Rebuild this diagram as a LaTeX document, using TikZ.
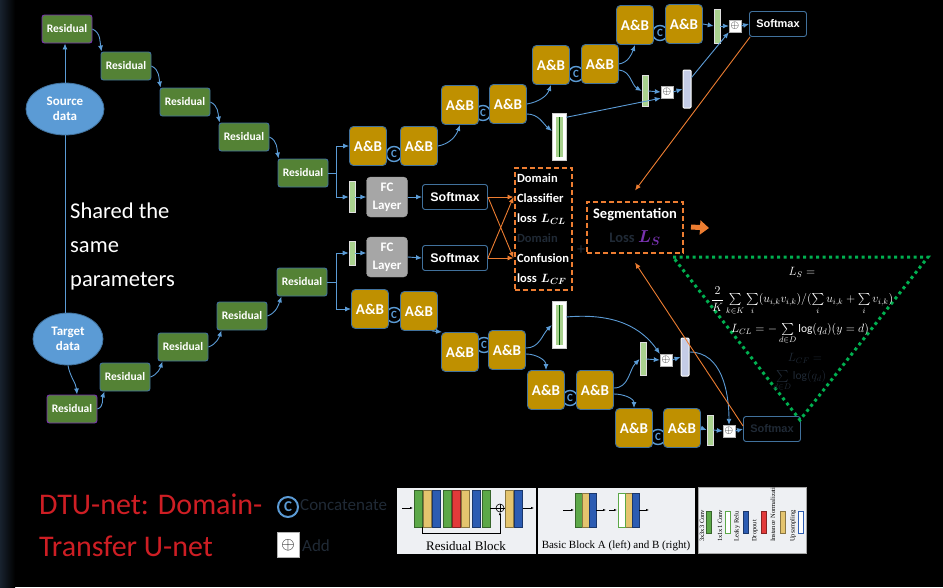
\documentclass[tikz,border=0pt]{standalone}
\usepackage{amsmath}
\usepackage{fontspec}
\setmainfont{Carlito}
\newfontfamily\arialfont{Liberation Sans}
\newfontfamily\timesfont{Liberation Serif}
\usepackage{xcolor}
\usetikzlibrary{positioning,arrows.meta,shapes.geometric}

\definecolor{resgreen}{RGB}{84,130,53}
\definecolor{abgold}{RGB}{191,144,0}
\definecolor{edgeblue}{RGB}{65,113,156}
\definecolor{flowblue}{RGB}{91,155,213}
\definecolor{lossorange}{RGB}{237,125,49}
\definecolor{dotgreen}{RGB}{0,176,80}
\definecolor{fcgray}{RGB}{166,166,166}
\definecolor{dimtext}{RGB}{32,42,54}
\definecolor{titlered}{RGB}{206,30,36}
\definecolor{lspurple}{RGB}{120,50,175}
\definecolor{barfill}{RGB}{169,209,142}
\definecolor{upfill}{RGB}{196,204,230}
\definecolor{panelfill}{RGB}{238,240,243}
\definecolor{lgreen}{RGB}{92,168,72}
\definecolor{lyellow}{RGB}{228,196,110}
\definecolor{lblue}{RGB}{44,92,178}
\definecolor{lred}{RGB}{226,58,58}

\begin{document}
\begin{tikzpicture}[
  x=1pt,
  y=1pt,
  resblock/.style={draw=edgeblue, fill=resgreen, rounded corners=2.5pt, line width=0.9pt,
    minimum width=50pt, minimum height=28pt, inner sep=0pt, text=white,
    font=\bfseries\fontsize{11.5}{12}\selectfont},
  datablob/.style={ellipse, draw=edgeblue, fill=flowblue, line width=0.8pt, inner sep=0pt,
    text=white, align=center, font=\bfseries\fontsize{13}{15}\selectfont},
  abblock/.style={draw=edgeblue, fill=abgold, rounded corners=4pt, line width=0.9pt,
    minimum width=37pt, minimum height=39pt, inner sep=0pt, text=white,
    font=\bfseries\fontsize{15}{16}\selectfont},
  fcblock/.style={draw=gray!80, fill=fcgray, rounded corners=4pt, minimum width=41pt,
    minimum height=40pt, inner sep=0pt, text=white, align=center,
    font=\bfseries\fontsize{13}{18}\selectfont},
  softbox/.style={draw=edgeblue, fill=black, rounded corners=2.5pt, line width=0.9pt,
    minimum width=65pt, minimum height=25pt, inner sep=0pt, text=white,
    font=\arialfont\bfseries\fontsize{12.5}{13}\selectfont},
  gbar/.style={fill=barfill, draw=white!75!gray, line width=0.6pt, minimum width=6pt,
    minimum height=31pt, inner sep=0pt},
  skipbar/.style={fill=white, draw=gray!40, minimum width=14pt, minimum height=47pt, inner sep=0pt,
    path picture={
      \fill[barfill] ([xshift=-3.5pt,yshift=-20pt]path picture bounding box.center)
        rectangle ([xshift=3.5pt,yshift=20pt]path picture bounding box.center);
      \draw[green!35!black, line width=0.5pt] ([yshift=-20pt]path picture bounding box.center)
        -- ([yshift=20pt]path picture bounding box.center);}},
  upbar/.style={fill=upfill, draw=white, line width=1pt, rounded corners=1pt,
    minimum width=8pt, minimum height=38pt, inner sep=0pt},
  addbox/.style={fill=white, draw=gray!60, minimum size=12pt, inner sep=0pt,
    font=\fontsize{11}{11}\selectfont},
  catmark/.style={circle, draw=flowblue, line width=1.4pt, text=flowblue, minimum size=15pt,
    inner sep=0pt, font=\bfseries\fontsize{11}{11}\selectfont},
  lossbox/.style={draw=lossorange, line width=2pt, dash pattern=on 5pt off 3pt},
  eqtext/.style={text=white, inner sep=0pt, font=\fontsize{11.5}{13}\selectfont},
  flow/.style={flowblue, line width=0.9pt, -{Latex[length=6pt,width=5pt]}},
  lossflow/.style={lossorange, line width=0.9pt, -{Latex[length=6pt,width=5pt]}},
]
\path[use as bounding box] (0,0) rectangle (943,-587);
\fill[black] (0,0) rectangle (943,-587);
\shade[left color={rgb,255:red,24;green,34;blue,46}, right color=black] (0,0) rectangle (15,-587);

% Encoders.
\node[datablob, minimum width=78pt, minimum height=52pt] (src) at (65,-109) {Source\\data};
\node[datablob, minimum width=70pt, minimum height=52pt] (tgt) at (68,-339) {Target\\data};

\node[resblock, draw=lspurple] (s1) at (67,-29) {Residual};
\node[resblock] (s2) at (126,-66) {Residual};
\node[resblock] (s3) at (185,-102) {Residual};
\node[resblock] (s4) at (244,-137) {Residual};
\node[resblock] (s5) at (303,-173) {Residual};

\node[resblock, draw=lspurple] (t1) at (72,-409) {Residual};
\node[resblock] (t2) at (125,-377) {Residual};
\node[resblock] (t3) at (183,-347) {Residual};
\node[resblock] (t4) at (242,-316) {Residual};
\node[resblock] (t5) at (302,-282) {Residual};

\draw[flow] (src.north) -- (src.north |- s1.south);
\draw[flowblue, line width=0.8pt] (src.south) -- (src.south |- tgt.north);
\draw[flow] (tgt.south) to[out=-80,in=95] ([xshift=5pt]t1.north);
\foreach \a/\b in {s1/s2,s2/s3,s3/s4,s4/s5} {
  \draw[flow] (\a.east) to[out=-25,in=100] ([xshift=1pt]\b.north west);
}
\foreach \a/\b in {t1/t2,t2/t3,t3/t4,t4/t5} {
  \draw[flow] (\a.east) to[out=20,in=-110] ([xshift=5pt]\b.south west);
}

\node[anchor=north west, align=left, text=white, inner sep=0pt,
  font=\fontsize{22.5}{34}\selectfont] (shared) at (70,-203) {Shared the\\same\\parameters};

% Concatenation marks (behind the blocks).
\foreach \nm/\xx/\yy in {c1/394/-154, c2/483/-113, c3/576/-74, c4/660/-33,
                         d1/394/-315, d2/484/-345, d3/570/-398, d4/658/-437} {
  \node[catmark] (\nm) at (\xx,\yy) {C};
}

% Source decoder.
\node[abblock] (ab1) at (368,-146) {A\&B};
\node[abblock] (ab2) at (419,-146) {A\&B};
\node[abblock] (ab3) at (460,-105) {A\&B};
\node[abblock] (ab4) at (508,-104) {A\&B};
\node[abblock] (ab5) at (551,-65) {A\&B};
\node[abblock] (ab6) at (600,-64) {A\&B};
\node[abblock] (ab7) at (635,-25) {A\&B};
\node[abblock] (ab8) at (684,-24) {A\&B};

\node[skipbar] (sk1) at (559,-137) {};
\node[gbar] (gb3) at (645,-91) {};
\node[addbox] (ad1) at (667,-92) {$\oplus$};
\node[upbar] (ub1) at (687,-89) {};
\node[gbar, minimum height=34pt] (gb4) at (717,-26) {};
\node[addbox] (ad2) at (735,-26) {$\oplus$};
\node[softbox, minimum width=57pt, font=\arialfont\bfseries\fontsize{11}{12}\selectfont] (smt) at (778,-24) {Softmax};

\coordinate (sfork) at (336,-173);
\draw[flowblue, line width=0.9pt] (s5.east) -- (sfork);
\draw[flow] (sfork) |- (ab1.west);
\draw[flow] (ab2.east) to[out=10,in=-110] (ab3.south);
\draw[flow] (ab4.east) to[out=10,in=-110] (ab5.south);
\draw[flow] (ab6.east) to[out=10,in=-110] (ab7.south);
\draw[flow] ([yshift=-10pt]ab4.east) to[out=0,in=140] ([yshift=6pt]sk1.west);
\draw[flow] ([yshift=-6pt]ab6.east) to[out=-5,in=150] (gb3.west);
\draw[flow] ([yshift=-4pt]sk1.north east) -- (ad1.south west);
\draw[flow] (gb3.east) -- (ad1.west);
\draw[flow] (ad1.east) -- (ub1.west);
\draw[flow] ([yshift=-8pt]ub1.north east) -- (ad2.south west);
\draw[flow] (ab8.east) -- (gb4.west);
\draw[flow] (gb4.east) -- (ad2.west);
\draw[flow] (ad2.east) -- (smt.west);

% Target decoder.
\node[abblock] (bb1) at (370,-309) {A\&B};
\node[abblock] (bb2) at (419,-311) {A\&B};
\node[abblock] (bb3) at (460,-352) {A\&B};
\node[abblock] (bb4) at (507,-350) {A\&B};
\node[abblock] (bb5) at (546,-390) {A\&B};
\node[abblock] (bb6) at (595,-390) {A\&B};
\node[abblock] (bb7) at (634,-428) {A\&B};
\node[abblock] (bb8) at (682,-428) {A\&B};

\node[skipbar] (sk2) at (559,-325) {};
\node[gbar, minimum height=33pt] (gb5) at (643,-359) {};
\node[addbox] (ad3) at (666,-360) {$\oplus$};
\node[upbar] (ub2) at (685,-357) {};
\node[gbar, minimum height=30pt] (gb6) at (710,-430) {};
\node[addbox] (ad4) at (729,-431) {$\oplus$};
\node[softbox, minimum width=57pt, text=dimtext, font=\arialfont\bfseries\fontsize{11}{12}\selectfont] (smb) at (772,-429) {Softmax};

\coordinate (tfork) at (336,-282);
\draw[flowblue, line width=0.9pt] (t5.east) -- (tfork);
\draw[flow] (tfork) |- (bb1.west);
\draw[flow] ([xshift=-6pt]bb2.south east) -- ([xshift=1pt]bb3.north west);
\draw[flow] ([yshift=2pt]bb4.east) to[out=0,in=-135] (sk2.west);
\draw[flow] ([yshift=-4pt]bb4.east) to[out=0,in=90] (bb5.north);
\draw[flow] ([yshift=2pt]bb6.east) to[out=0,in=-135] (gb5.west);
\draw[flow] ([yshift=-4pt]bb6.east) to[out=0,in=90] (bb7.north);
\draw[flow] ([yshift=8pt]sk2.east) to[out=5,in=125] (ad3.north west);
\draw[flow] (gb5.east) -- (ad3.west);
\draw[flow] (ad3.east) -- (ub2.west);
\draw[flow] ([yshift=5pt]ub2.east) to[out=0,in=90] (ad4.north);
\draw[flow] (bb8.east) -- (gb6.west);
\draw[flow] (gb6.east) -- (ad4.west);
\draw[flow] (ad4.east) -- (smb.west);

% Domain heads.
\node[gbar] (gb1) at (352,-197) {};
\node[fcblock] (fc1) at (387,-197) {FC\\Layer};
\node[softbox] (sm1) at (455,-197) {Softmax};
\node[gbar, minimum height=24pt] (gb2) at (352,-253) {};
\node[fcblock] (fc2) at (387,-257) {FC\\Layer};
\node[softbox] (sm2) at (455,-258) {Softmax};

\draw[flow] (sfork) |- (gb1.west);
\draw[flow] (tfork) |- (gb2.west);
\draw[flow] (gb1.east) -- (fc1.west |- gb1.east);
\draw[flow] (gb2.east) -- (fc2.west |- gb2.east);
\draw[flow] (fc1.east) -- (sm1.west);
\draw[flow] (fc2.east) -- (sm2.west);

% Losses.
\node[lossbox, minimum width=57pt, minimum height=122pt, text width=52pt, inner sep=2.5pt,
  align=left, text=white, font=\bfseries\fontsize{12.5}{20}\selectfont] (dom) at (543,-229)
  {Domain\\Classifier\\loss $\boldsymbol{L_{CL}}$\\{\color{dimtext}Domain}\\Confusion\\loss $\boldsymbol{L_{CF}}$};
\node[text=dimtext, font=\fontsize{16}{16}\selectfont] (plus) at (581,-250) {+};
\node[lossbox, minimum width=96pt, minimum height=51pt, align=center, text=white,
  font=\bfseries\fontsize{14.5}{24}\selectfont] (seg) at (635,-227)
  {Segmentation\\{\color{dimtext}Loss}\ {\color{lspurple}\fontsize{18}{18}\selectfont$\boldsymbol{L_S}$}};
\coordinate (segout) at (709,-228);

\draw[lossflow] (sm1.east) -- (sm1.east -| dom.west);
\draw[lossflow] (sm1.east) -- (sm2.east -| dom.west);
\draw[lossflow] (sm2.east) -- (sm2.east -| dom.west);
\draw[lossflow] (sm2.east) -- (sm1.east -| dom.west);
\draw[lossflow] ([xshift=1pt]smt.south west) -- ([yshift=10pt]seg.north);
\draw[lossflow] ([yshift=3pt]smb.west) -- ([yshift=-9pt]seg.south);
\draw[lossorange, line width=5pt, -{Triangle[length=9pt,width=14pt]}] ([xshift=7pt]seg.east) -- (segout);

% Loss formulas.
\draw[dotgreen, line width=3pt, dash pattern=on 3pt off 3.5pt] (673,-257) -- (928,-257) -- (800,-420) -- cycle;
\node[eqtext] (eqa) at (802,-272) {$L_S =$};
\node[eqtext] (eqb) at (802,-301)
  {$\dfrac{2}{K}\sum\limits_{k\in K}\sum\limits_{i}(u_{i,k}v_{i,k})/(\sum\limits_{i}u_{i,k}+\sum\limits_{i}v_{i,k})$};
\node[eqtext] (eqc) at (800,-334) {$L_{CL} = -\sum\limits_{d\in D}\log(q_d)(y=d)$};
\node[eqtext, text=dimtext] (eqd) at (805,-358) {$L_{CF} =$};
\node[eqtext, text=dimtext] (eqe) at (800,-381) {$\sum\limits_{d\in D}\log(q_d)$};

% Title and key.
\node[anchor=north west, align=left, text=titlered, inner sep=0pt,
  font=\fontsize{30}{42}\selectfont] (title) at (39,-494) {DTU-net: Domain-\\Transfer U-net};
\node[catmark, minimum size=20pt, line width=2pt, font=\bfseries\fontsize{15}{15}\selectfont] (catkey) at (288,-507) {C};
\node[anchor=west, text=dimtext, inner sep=0pt, font=\fontsize{17}{17}\selectfont] (catlab) at (300,-505) {Concatenate};
\node[addbox, minimum width=22pt, minimum height=25pt, font=\fontsize{18}{18}\selectfont] (addkey) at (288,-545) {$\oplus$};
\node[anchor=west, text=dimtext, inner sep=0pt, font=\fontsize{17}{17}\selectfont] (addlab) at (302,-546) {Add};

% Block legend.
\fill[panelfill] (397,-488) rectangle (536,-554);
\fill[panelfill] (538,-488) rectangle (695,-554);
\fill[panelfill] (698,-487) rectangle (806,-553);
\draw[gray!70, line width=0.6pt] (698,-487) rectangle (806,-553);

\foreach \xx/\cc in {414/lgreen,423/lyellow,432/lblue,443/lgreen,452/lred,461/lyellow,
                     472/lblue,482/lgreen,505/lyellow,514/lblue} {
  \fill[\cc, draw=\cc!60!black, line width=0.4pt] (\xx,-490) rectangle ++(8,-37);
}
\draw[-{Latex[length=3pt]}, line width=0.5pt] (402,-508) -- (413,-508);
\draw[line width=0.5pt] (490,-508) -- (496,-508) (504,-508) -- (505,-508);
\draw[line width=0.6pt] (500,-508) circle (4);
\draw[line width=0.5pt] (496,-508) -- (504,-508) (500,-504) -- (500,-512);
\draw[-{Latex[length=3pt]}, line width=0.5pt] (422,-527) -- (422,-533) -- (500,-533) -- (500,-512);
\draw[-{Latex[length=3pt]}, line width=0.5pt] (523,-508) -- (534,-508);
\node[font=\timesfont\fontsize{13}{13}\selectfont] (rescap) at (466,-546) {Residual Block};

\foreach \xx/\cc in {575/lgreen,582/lyellow,589/lblue,625/lyellow,632/lblue} {
  \fill[\cc, draw=\cc!60!black, line width=0.4pt] (\xx,-493) rectangle ++(7,-34);
}
\fill[white, draw=lgreen, line width=1pt] (618,-493) rectangle ++(7,-34);
\draw[-{Latex[length=3pt]}, line width=0.5pt] (563,-510) -- (574,-510);
\draw[-{Latex[length=3pt]}, line width=0.5pt] (596,-510) -- (606,-510);
\draw[-{Latex[length=3pt]}, line width=0.5pt] (609,-510) -- (617,-510);
\draw[-{Latex[length=3pt]}, line width=0.5pt] (639,-510) -- (649,-510);
\node[font=\timesfont\fontsize{11}{11}\selectfont] (basiccap) at (616,-546) {Basic Block A (left) and B (right)};

\begin{scope}
  \clip (698,-487) rectangle (806,-553);
  \fill[lgreen, draw=lgreen!60!black] (706,-511) rectangle ++(5,-22);
  \fill[white, draw=lgreen, line width=0.8pt] (725,-511) rectangle ++(5,-22);
  \fill[lblue, draw=lblue!60!black] (743,-511) rectangle ++(5,-22);
  \fill[lred, draw=lred!60!black] (761,-511) rectangle ++(5,-22);
  \fill[lyellow, draw=lyellow!60!black] (780,-511) rectangle ++(5,-22);
  \fill[white, draw=lblue, line width=0.8pt] (798,-511) rectangle ++(5,-22);
  \foreach \xx/\lab in {702/3x3x3 Conv, 720/1x1x1 Conv, 737/Leaky Relu, 755/Dropout,
                        773/Instance Normalization, 793/Upsampling} {
    \node[rotate=90, anchor=west, inner sep=0pt, font=\timesfont\fontsize{6.5}{7}\selectfont] at (\xx,-542) {\lab};
  }
\end{scope}

\end{tikzpicture}
\end{document}
